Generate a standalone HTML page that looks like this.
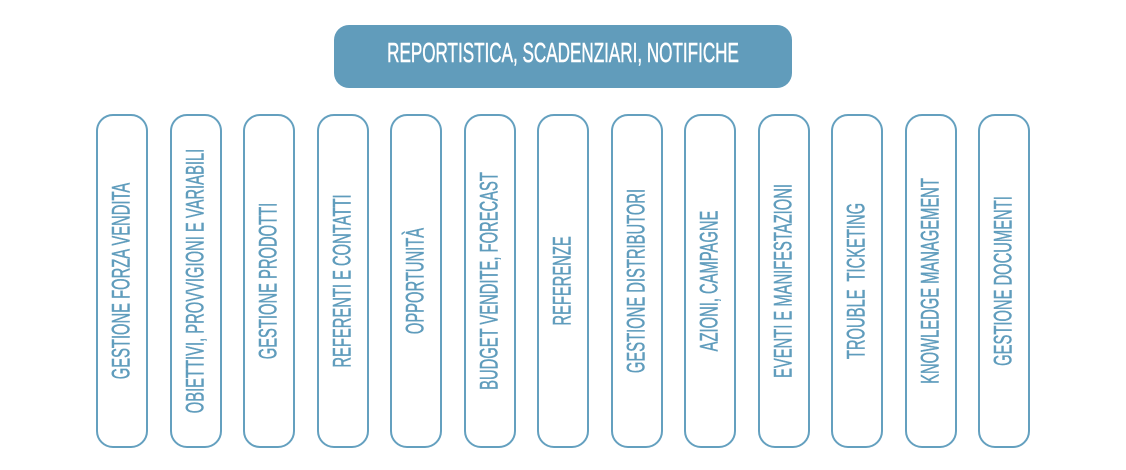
<!DOCTYPE html>
<html><head><meta charset="utf-8"><style>
body{margin:0;width:1126px;height:470px;background:#fff;position:relative;overflow:hidden;font-family:"Liberation Sans",sans-serif;}
.hd{position:absolute;left:334px;top:25px;width:458px;height:63px;background:#619cbb;border-radius:15px;}
.hd span{position:absolute;left:50%;top:45%;transform:translate(-50%,-50%) scaleX(0.61);white-space:nowrap;color:#fff;font-size:28px;-webkit-text-stroke:0.5px #fff;}
.sh{position:absolute;left:420px;top:82px;width:290px;height:6px;border-radius:50%;background:radial-gradient(ellipse at center,rgba(60,80,95,0.75),rgba(60,80,95,0) 70%);}
.c{position:absolute;top:114px;width:48px;height:330px;border:2.5px solid #64a0bf;border-radius:17px;}
.c span{position:absolute;left:50%;top:50%;transform:translate(-50%,-50%) rotate(-90deg) scaleX(0.59);white-space:nowrap;color:#5f9cbc;font-size:25px;-webkit-text-stroke:0.5px #5f9cbc;}
</style></head><body>
<div class="sh"></div>
<div class="hd"><span>REPORTISTICA, SCADENZIARI, NOTIFICHE</span></div>
<div class="c" style="left:96px"><span>GESTIONE FORZA VENDITA</span></div>
<div class="c" style="left:169.5px"><span>OBIETTIVI, PROVVIGIONI E VARIABILI</span></div>
<div class="c" style="left:243px"><span>GESTIONE PRODOTTI</span></div>
<div class="c" style="left:316.5px"><span>REFERENTI E CONTATTI</span></div>
<div class="c" style="left:390px"><span>OPPORTUNITÀ</span></div>
<div class="c" style="left:463.5px"><span>BUDGET VENDITE, FORECAST</span></div>
<div class="c" style="left:537px"><span>REFERENZE</span></div>
<div class="c" style="left:610.5px"><span>GESTIONE DISTRIBUTORI</span></div>
<div class="c" style="left:684px"><span>AZIONI, CAMPAGNE</span></div>
<div class="c" style="left:757.5px"><span>EVENTI E MANIFESTAZIONI</span></div>
<div class="c" style="left:831px"><span>TROUBLE&nbsp; TICKETING</span></div>
<div class="c" style="left:904.5px"><span>KNOWLEDGE MANAGEMENT</span></div>
<div class="c" style="left:978px"><span>GESTIONE DOCUMENTI</span></div>
</body></html>
